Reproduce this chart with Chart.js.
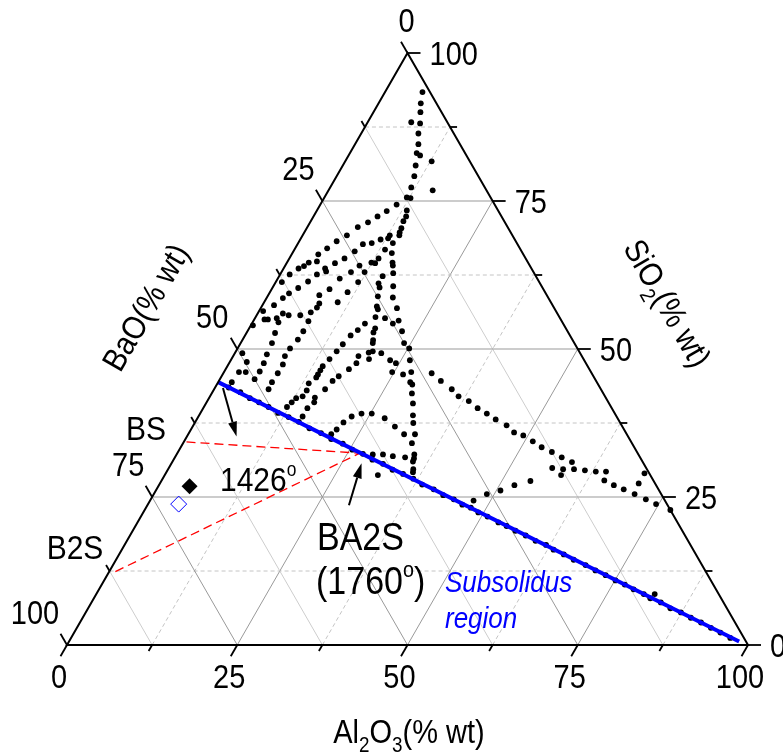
<!DOCTYPE html>
<html>
<head>
<meta charset="utf-8">
<title>BaO - Al2O3 - SiO2</title>
<script src="https://cdn.jsdelivr.net/npm/chart.js@4.4.0/dist/chart.umd.min.js"></script>
<style>
  html, body { margin: 0; padding: 0; background: #fff; }
  canvas { display: block; }
</style>
</head>
<body>
<canvas id="ternary" width="783" height="753"></canvas>
<script>
// compositions in % wt, BaO is whatever is left to 100
const dotAl2O3 = [
  5.5, 6.2, 6.9, 6.4, 7.8, 8.4, 9.3, 9.8, 10.5, 12.7, 10.7, 11.4, 11.9, 15.3, 12.1, 12.7,
  11.2, 10.3, 13.2, 9.4, 13.6, 13.6, 8.5, 7.4, 13.9, 14.0, 14.2, 6.5, 12.8, 12.8, 11.8, 5.5,
  13.9, 10.8, 9.6, 13.3, 4.7, 9.0, 14.6, 3.9, 8.1, 13.1, 12.4, 13.0, 15.5, 15.8, 7.1, 3.2,
  4.3, 2.8, 2.2, 6.1, 6.5, 10.9, 15.2, 16.5, 12.2, 10.2, 1.4, 5.4, 9.1, 0.9, 4.7, 12.1,
  15.2, 15.7, 17.6, 3.8, 8.5, 2.9, 7.5, 11.4, 16.2, 18.5, 2.4, 1.7, 8.2, 8.2, 10.8, 16.9,
  17.3, 20.0,
  0.6, 7.7, 3.7, 4.7, 6.4, 1.5, 2.0, 3.2, 3.8, 0.3, 8.1, 17.6, 19.1, 21.3, 20.7, 16.6,
  4.2, 18.5, 18.6, 22.7, 16.1, 15.5, 8.2, 8.1, 4.6, 15.1, 19.2, 19.4, 24.0, 7.7, 25.2, 14.8,
  1.1, 19.6, 20.1, 21.5, 4.8, 7.6, 14.4, 18.4, 20.2, 23.4, 24.5, 26.3, 2.5, 5.1, 8.0, 18.7,
  14.0, 14.0, 5.2, 2.2, 3.2, 8.0, 18.1, 14.0, 14.0, 24.7, 27.5, 26.5, 17.2, 5.1, 16.7, 2.0,
  7.9, 13.4, 28.2, 28.7, 16.3, 8.0, 13.7, 13.6, 15.5, 15.8, 12.8, 12.5, 15.3, 12.2, 15.3,
  29.4, 30.4, 31.4, 32.1, 33.3, 33.6, 34.9, 35.2, 35.3, 36.0, 36.2,
  30.6, 32.6, 34.9, 36.5, 38.4, 40.3, 42.1, 43.9, 46.0, 47.7, 49.3, 51.2, 53.0, 54.9, 56.8, 58.7,
  31.7, 33.8, 56.3, 58.0, 59.6, 61.3, 63.0, 64.5, 58.2, 70.3, 65.0, 66.8, 68.6, 70.3, 70.6, 72.7,
  74.6, 77.2, 54.2, 52.2, 50.6, 48.9, 47.5,
  23.7, 22.5, 25.2, 27.5, 21.8, 21.4, 29.7, 21.0, 28.8, 30.3, 31.9, 31.3, 82.0
];
const dotSiO2 = [
  93.4, 91.5, 90.0, 88.3, 88.1, 86.4, 84.6, 83.1, 82.7, 81.7, 81.0, 79.2, 77.3, 76.8, 75.6, 75.5,
  74.4, 73.3, 73.4, 72.4, 72.4, 71.6, 71.4, 70.6, 70.4, 69.7, 69.2, 69.2, 69.2, 68.7, 68.5, 68.2,
  67.9, 67.9, 67.7, 66.8, 67.0, 66.5, 66.2, 66.0, 65.3, 65.3, 64.6, 64.5, 64.6, 64.1, 64.5, 64.6,
  64.8, 64.0, 63.6, 63.6, 63.1, 64.1, 62.3, 62.8, 63.0, 63.0, 62.6, 62.6, 61.9, 61.3, 61.4, 61.3,
  61.1, 60.4, 60.6, 60.3, 60.1, 59.4, 59.1, 59.6, 58.9, 58.7, 58.6, 57.4, 57.7, 57.0, 57.9, 57.2,
  56.7, 56.9,
  56.4, 56.2, 56.0, 55.7, 55.7, 55.0, 55.0, 55.2, 54.5, 54.0, 54.7, 55.4, 55.2, 54.8, 54.3, 54.3,
  52.7, 53.5, 52.8, 53.0, 53.2, 52.3, 53.0, 51.6, 51.0, 50.8, 51.5, 51.0, 51.0, 50.1, 50.1, 49.6,
  49.3, 49.4, 49.6, 49.3, 49.1, 48.8, 48.3, 48.8, 48.3, 48.1, 47.6, 48.1, 47.8, 47.6, 47.4, 47.6,
  47.1, 46.4, 46.2, 46.1, 46.1, 45.9, 46.6, 45.7, 45.2, 46.1, 46.1, 45.7, 45.4, 44.9, 44.6, 44.4,
  44.4, 44.2, 44.4, 44.0, 43.2, 43.2, 43.0, 42.0, 41.8, 41.0, 41.7, 41.0, 40.0, 40.2, 38.6,
  42.5, 40.8, 38.8, 37.5, 35.6, 34.1, 32.2, 31.5, 31.0, 29.7, 29.2,
  45.9, 44.6, 43.2, 42.0, 41.2, 40.0, 39.1, 38.1, 37.1, 35.9, 35.4, 34.4, 33.4, 32.6, 31.7, 30.9,
  35.6, 31.7, 29.9, 29.7, 29.7, 29.5, 29.3, 29.3, 28.7, 29.0, 27.8, 27.0, 26.3, 27.3, 25.5, 24.6,
  23.8, 22.8, 27.7, 27.0, 26.1, 25.5, 24.4,
  39.1, 38.6, 39.1, 38.3, 37.6, 36.4, 36.9, 35.6, 32.2, 32.2, 31.9, 28.7, 8.6
];

// dots lying on the BaO.2SiO2 - Al2O3 join
const joinDotAl2O3 = [
  2.0, 4.1, 6.0, 7.7, 9.5, 11.4, 13.3, 15.2, 17.3, 19.4, 21.4, 23.5, 25.4, 27.3, 29.2, 31.1,
  33.0, 34.9, 36.8, 38.6, 40.7, 42.6, 44.5, 46.2, 47.7, 49.2, 50.9, 53.0, 54.5, 56.2, 58.1, 60.0,
  61.9, 63.4, 65.3, 67.2, 69.4, 71.3, 73.2, 75.1, 76.8, 78.5, 80.4, 81.7, 83.6, 85.5, 87.4, 89.3,
  91.2, 93.1, 94.9, 96.8
];
const joinDotSiO2 = [
  43.5, 42.7, 41.7, 41.0, 40.2, 39.2, 38.5, 37.7, 36.6, 35.8, 34.8, 34.0, 33.0, 32.3, 31.3, 30.6,
  29.6, 28.9, 28.1, 27.1, 26.3, 25.3, 24.6, 23.7, 23.2, 22.4, 21.7, 20.7, 20.1, 19.3, 18.5, 17.6,
  16.9, 16.1, 15.3, 14.4, 13.5, 12.6, 11.8, 10.9, 10.2, 9.4, 8.6, 7.9, 7.2, 6.2, 5.5, 4.6,
  3.8, 2.9, 2.1, 1.2
];

const joinAl2O3 = [0, 98.4];
const joinSiO2 = [44.4, 0.6];
const bsTieAl2O3 = [0.4, 26.8];
const bsTieSiO2 = [34.3, 32.4];
const b2sTieAl2O3 = [0.9, 26.8];
const b2sTieSiO2 = [12.4, 32.4];
const meltAl2O3 = [4.6];
const meltSiO2 = [26.8];
const openAl2O3 = [4.5];
const openSiO2 = [23.8];

const arrowTailAl2O3 = [1.2, 29.6];
const arrowTailSiO2 = [43.4, 23.6];
const arrowHeadAl2O3 = [7.3, 27.9];
const arrowHeadSiO2 = [35.2, 30.7];

const tickValues = [0, 12.5, 25, 37.5, 50, 62.5, 75, 87.5, 100];
const tickLabels = ["0", "25", "50", "75", "100"];

const FAMILY = '"Liberation Sans", Arial, sans-serif';

function toXY(al, si) {
    return { x: al + si / 2, y: si };
}

function pairs(al, si) {
    return al.map((a, i) => toXY(a, si[i]));
}

function seg(ctx, p, q, color, dash, width) {
    ctx.beginPath();
    ctx.setLineDash(dash);
    ctx.strokeStyle = color;
    ctx.lineWidth = width || 1;
    ctx.moveTo(p[0], p[1]);
    ctx.lineTo(q[0], q[1]);
    ctx.stroke();
}

// runs: [text, kind] with kind n / sub / sup ; (cx, cy) is the middle of the capitals
// the source font is a bit taller than Liberation Sans, hence the vertical stretch
function drawRuns(ctx, runs, cx, cy, size, opts = {}) {
    const angle = opts.angle || 0;
    const align = opts.align || "center";
    const style = opts.italic ? "italic " : "";
    const stretch = opts.stretch || 1.13;
    const spec = k => k === "sub" ? { s: size * 0.65, dy: size * 0.27 }
                    : k === "sup" ? { s: size * 0.58, dy: -size * 0.44 }
                    : { s: size, dy: 0 };
    ctx.save();
    ctx.translate(cx, cy);
    ctx.rotate(angle);
    ctx.scale(1, stretch);
    ctx.fillStyle = opts.color || "#000";
    ctx.textBaseline = "alphabetic";
    ctx.textAlign = "left";
    let total = 0;
    const widths = runs.map(([t, k]) => {
        ctx.font = style + spec(k).s + "px " + FAMILY;
        const w = ctx.measureText(t).width;
        total += w;
        return w;
    });
    let x = align === "center" ? -total / 2 : align === "right" ? -total : 0;
    runs.forEach(([t, k], i) => {
        const sp = spec(k);
        ctx.font = style + sp.s + "px " + FAMILY;
        ctx.fillText(t, x, size * 0.36 + sp.dy);
        x += widths[i];
    });
    ctx.restore();
}

function drawArrow(ctx, p, q) {
    const dx = q[0] - p[0], dy = q[1] - p[1];
    const len = Math.hypot(dx, dy);
    const ux = dx / len, uy = dy / len;
    const headL = 15, headW = 4.5;
    const bx = q[0] - ux * headL, by = q[1] - uy * headL;
    seg(ctx, p, [bx, by], "#000", [], 2);
    ctx.beginPath();
    ctx.fillStyle = "#000";
    ctx.moveTo(q[0], q[1]);
    ctx.lineTo(bx - uy * headW, by + ux * headW);
    ctx.lineTo(bx + uy * headW, by - ux * headW);
    ctx.closePath();
    ctx.fill();
}

const ternaryFrame = {
    id: "ternaryFrame",
    beforeDatasetsDraw(chart) {
        const ctx = chart.ctx;
        const P = (a, s) => [chart.scales.x.getPixelForValue(a + s / 2), chart.scales.y.getPixelForValue(s)];
        ctx.save();
        tickValues.forEach(v => {
            if (v === 0 || v === 100) return;
            const major = v % 25 === 0;
            //constant SiO2
            seg(ctx, P(0, v), P(100 - v, v), major ? "#999" : "#c4c4c4", major ? [] : [4, 3]);
            //constant Al2O3
            seg(ctx, P(v, 0), P(v, 100 - v), major ? "#999" : "#c4c4c4", major ? [] : [4, 3]);
            //constant BaO
            seg(ctx, P(100 - v, 0), P(0, 100 - v), major ? "#999" : "#cdcdcd", []);
        });
        ctx.restore();
    },
    afterDatasetsDraw(chart) {
        const ctx = chart.ctx;
        const P = (a, s) => [chart.scales.x.getPixelForValue(a + s / 2), chart.scales.y.getPixelForValue(s)];
        ctx.save();

        // triangle frame
        ctx.beginPath();
        ctx.setLineDash([]);
        ctx.strokeStyle = "#000";
        ctx.lineWidth = 2;
        ctx.lineJoin = "miter";
        const c1 = P(0, 0), c2 = P(100, 0), c3 = P(0, 100);
        ctx.moveTo(c1[0], c1[1]);
        ctx.lineTo(c2[0], c2[1]);
        ctx.lineTo(c3[0], c3[1]);
        ctx.closePath();
        ctx.stroke();

        // ticks, pointing out along each grid family
        const c60 = 0.5, s60 = Math.sqrt(3) / 2;
        tickValues.forEach(v => {
            const L = v % 25 === 0 ? 13 : 7;
            const b = P(v, 0);
            seg(ctx, b, [b[0] - c60 * L, b[1] + s60 * L], "#000", [], 1.8);
            const r = P(100 - v, v);
            seg(ctx, r, [r[0] + L, r[1]], "#000", [], 1.8);
            const l = P(0, 100 - v);
            seg(ctx, l, [l[0] - c60 * L, l[1] - s60 * L], "#000", [], 1.8);
        });

        // tick labels
        const leftDx = [-1, -24, -25, -24, -32];
        [0, 25, 50, 75, 100].forEach((v, i) => {
            const b = P(v, 0);
            drawRuns(ctx, [[tickLabels[i], "n"]], b[0] - 8, b[1] + 31, 29);
            const r = P(100 - v, v);
            drawRuns(ctx, [[tickLabels[i], "n"]], r[0] + 22, r[1], 29, { align: "left" });
            const l = P(0, 100 - v);
            drawRuns(ctx, [[tickLabels[i], "n"]], l[0] + leftDx[i], l[1] - 33, 29);
        });

        // axis titles
        drawRuns(ctx, [["Al", "n"], ["2", "sub"], ["O", "n"], ["3", "sub"], ["(% wt)", "n"]], 409, 731, 29);
        drawRuns(ctx, [["BaO(% wt)", "n"]], 145, 307, 29, { angle: -Math.PI / 3 });
        drawRuns(ctx, [["SiO", "n"], ["2", "sub"], ["(% wt)", "n"]], 668, 303, 29, { angle: Math.PI / 3 });

        // arrows
        arrowTailAl2O3.forEach((a, i) => {
            drawArrow(ctx, P(a, arrowTailSiO2[i]), P(arrowHeadAl2O3[i], arrowHeadSiO2[i]));
        });

        // phase labels
        drawRuns(ctx, [["BS", "n"]], 146, 428, 30);
        drawRuns(ctx, [["B2S", "n"]], 75, 547, 30);
        drawRuns(ctx, [["1426", "n"], ["o", "sup"]], 220, 479, 30, { align: "left" });
        drawRuns(ctx, [["BA2S", "n"]], 317, 536, 34, { align: "left" });
        drawRuns(ctx, [["(1760", "n"], ["o", "sup"], [")", "n"]], 316, 580, 34, { align: "left" });
        drawRuns(ctx, [["Subsolidus", "n"]], 445, 581, 26, { align: "left", italic: true, color: "#0000ff" });
        drawRuns(ctx, [["region", "n"]], 445, 617, 26, { align: "left", italic: true, color: "#0000ff" });

        ctx.restore();
    }
};

new Chart(document.getElementById("ternary"), {
    type: "scatter",
    data: {
        datasets: [
            {
                data: pairs(joinAl2O3, joinSiO2),
                showLine: true,
                borderColor: "#0000ff",
                borderWidth: 4,
                pointRadius: 0,
                clip: false
            },
            {
                data: pairs(bsTieAl2O3, bsTieSiO2),
                showLine: true,
                borderColor: "#ff0000",
                borderWidth: 1.3,
                borderDash: [9, 5],
                pointRadius: 0,
                clip: false
            },
            {
                data: pairs(b2sTieAl2O3, b2sTieSiO2),
                showLine: true,
                borderColor: "#ff0000",
                borderWidth: 1.3,
                borderDash: [9, 5],
                pointRadius: 0,
                clip: false
            },
            {
                data: pairs(meltAl2O3, meltSiO2),
                pointStyle: "rectRot",
                pointRadius: 8,
                backgroundColor: "#000",
                borderColor: "#000",
                borderWidth: 0
            },
            {
                data: pairs(openAl2O3, openSiO2),
                pointStyle: "rectRot",
                pointRadius: 8,
                backgroundColor: "rgba(255,255,255,0)",
                borderColor: "#0000ff",
                borderWidth: 1
            },
            {
                data: pairs(joinDotAl2O3, joinDotSiO2),
                pointRadius: 2.9,
                backgroundColor: "#000",
                borderWidth: 0,
                clip: false
            },
            {
                data: pairs(dotAl2O3, dotSiO2),
                pointRadius: 2.9,
                backgroundColor: "#000",
                borderWidth: 0,
                clip: false
            }
        ]
    },
    options: {
        responsive: false,
        animation: false,
        events: [],
        layout: { padding: { left: 67, right: 35, top: 53, bottom: 108 } },
        scales: {
            x: { display: false, min: 0, max: 100 },
            y: { display: false, min: 0, max: 100 }
        },
        plugins: {
            legend: { display: false },
            tooltip: { enabled: false }
        }
    },
    plugins: [ternaryFrame]
});
</script>
</body>
</html>
